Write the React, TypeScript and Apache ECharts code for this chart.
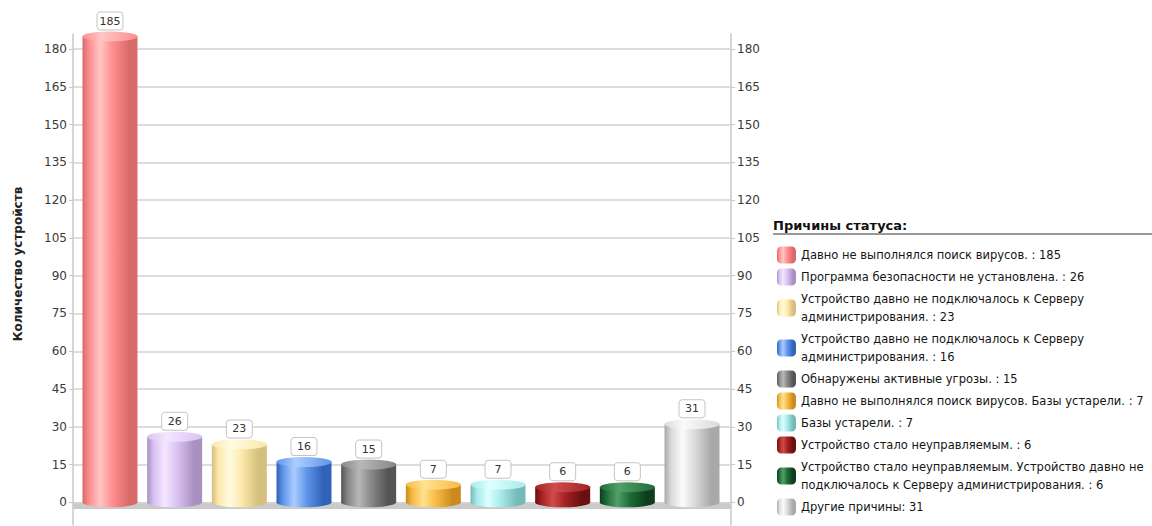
import React, { useEffect, useRef } from "react";
import * as echarts from "echarts";

// ---- data ----
const reasons: string[] = [
  "Давно не выполнялся поиск вирусов.",
  "Программа безопасности не установлена.",
  "Устройство давно не подключалось к Серверу\nадминистрирования.",
  "Устройство давно не подключалось к Серверу\nадминистрирования.",
  "Обнаружены активные угрозы.",
  "Давно не выполнялся поиск вирусов. Базы устарели.",
  "Базы устарели.",
  "Устройство стало неуправляемым.",
  "Устройство стало неуправляемым. Устройство давно не\nподключалось к Серверу администрирования.",
  "Другие причины",
];
const values: number[] = [185, 26, 23, 16, 15, 7, 7, 6, 6, 31];
const tickValues: number[] = [0, 15, 30, 45, 60, 75, 90, 105, 120, 135, 150, 165, 180];
const yAxisTitle = "Количество устройств";
const legendTitle = "Причины статуса:";

// colours: [light, base, dark]
const palette: string[][] = [
  ["#ffc6c6", "#ff8d8d", "#d86a6a"],
  ["#f4e6ff", "#d9c1f2", "#a891c0"],
  ["#fffbe2", "#fce8aa", "#d4bf7c"],
  ["#abcdff", "#5f95ea", "#2f62b8"],
  ["#b8b8b8", "#878787", "#555555"],
  ["#ffe28e", "#f6bb45", "#cc8a1e"],
  ["#deffff", "#a8eaea", "#76b9b9"],
  ["#d04c4c", "#a52222", "#6b0e0e"],
  ["#529f69", "#1f6c38", "#0d3d1c"],
  ["#fbfbfb", "#dadada", "#a8a8a8"],
];

const FONT = "'DejaVu Sans', Verdana, sans-serif";

function bodyGradient(c: string[]) {
  return new echarts.graphic.LinearGradient(0, 0, 1, 0, [
    { offset: 0, color: c[2] },
    { offset: 0.12, color: c[1] },
    { offset: 0.32, color: c[0] },
    { offset: 0.55, color: c[1] },
    { offset: 0.85, color: c[2] },
    { offset: 1, color: c[2] },
  ]);
}
function topGradient(c: string[]) {
  return new echarts.graphic.LinearGradient(0, 0, 1, 0, [
    { offset: 0, color: c[1] },
    { offset: 0.35, color: c[0] },
    { offset: 1, color: c[1] },
  ]);
}

export default function App() {
  const ref = useRef<HTMLDivElement>(null);
  useEffect(() => {
    if (!ref.current) return;
    const chart = echarts.init(ref.current, undefined, { renderer: "svg" });
    const names = reasons.map(
      (r, i) => r + (r.endsWith(".") ? " : " : ": ") + values[i]
    );
    const barW = 55;

    const barSeries = values.map((v, i) => ({
      type: "bar",
      name: names[i],
      data: [[i, v]],
      barWidth: barW,
      barGap: "-100%",
      z: 3,
      itemStyle: { color: bodyGradient(palette[i]) },
      label: {
        show: true,
        position: "top",
        distance: 7,
        formatter: (p: any) => String(p.value[1]),
        backgroundColor: "#ffffff",
        borderColor: "#c4c4c4",
        borderWidth: 1,
        borderRadius: 3,
        padding: [2, 4],
        width: 17,
        align: "center",
        color: "#333",
        fontSize: 11,
        lineHeight: 13,
        fontFamily: FONT,
      },
    }));

    const axisCommon = {
      type: "value",
      min: -9,
      max: 186,
      axisLine: {
        show: true,
        onZero: false,
        lineStyle: { color: "#c8c8c8", width: 1.5 },
      },
      axisTick: {
        show: true,
        length: 4,
        customValues: tickValues,
        lineStyle: { color: "#c8c8c8" },
      },
      axisLabel: {
        customValues: tickValues,
        color: "#3a3a3a",
        fontSize: 12,
        fontFamily: FONT,
        margin: 6,
      },
      splitLine: { show: false },
    };

    chart.setOption({
      animation: false,
      grid: { left: 73, right: 421, top: 34, bottom: 1, containLabel: false },
      xAxis: {
        type: "value",
        min: -0.572,
        max: 9.603,
        show: false,
        axisLine: { onZero: false },
      },
      yAxis: [
        { ...axisCommon, position: "left" },
        { ...axisCommon, position: "right" },
      ],
      legend: {
        orient: "vertical",
        left: 772,
        top: 241,
        itemWidth: 19,
        itemHeight: 17,
        itemGap: 4,
        icon: "roundRect",
        selectedMode: false,
        data: names,
        textStyle: { fontSize: 11.5, color: "#151515", lineHeight: 18, fontFamily: FONT },
      },
      graphic: [
        {
          type: "text",
          x: 18,
          y: 264,
          rotation: Math.PI / 2,
          style: {
            text: yAxisTitle,
            font: `bold 12px ${FONT}`,
            fill: "#222",
            textAlign: "center",
            textVerticalAlign: "middle",
          },
        },
        {
          type: "text",
          x: 773,
          y: 225,
          style: {
            text: legendTitle,
            font: `bold 13px ${FONT}`,
            fill: "#111",
            textAlign: "left",
            textVerticalAlign: "middle",
          },
        },
        {
          type: "line",
          shape: { x1: 773, y1: 234, x2: 1152, y2: 234 },
          style: { stroke: "#777", lineWidth: 1.5 },
        },
      ],
      series: [
        {
          type: "line",
          data: [],
          z: 0,
          silent: true,
          markLine: {
            silent: true,
            z: 1,
            symbol: ["none", "none"],
            label: { show: false },
            lineStyle: { color: "#d2d2d2", width: 1.5, type: "solid" },
            data: tickValues.map((t) => ({ yAxis: t })),
          },
          markArea: {
            silent: true,
            z: 1,
            itemStyle: { color: "#cacaca" },
            data: [[{ yAxis: 0 }, { yAxis: -2.6 }]],
          },
        },
        {
          type: "pictorialBar",
          symbol: "circle",
          symbolSize: [barW, 10],
          symbolPosition: "start",
          symbolOffset: [0, "50%"],
          z: 2,
          silent: true,
          data: values.map((v, i) => ({
            value: [i, v],
            itemStyle: { color: bodyGradient(palette[i]) },
          })),
        },
        ...barSeries,
        {
          type: "pictorialBar",
          symbol: "circle",
          symbolSize: [barW, 10],
          symbolPosition: "end",
          symbolOffset: [0, "-50%"],
          z: 4,
          silent: true,
          data: values.map((v, i) => ({
            value: [i, v],
            itemStyle: { color: topGradient(palette[i]) },
          })),
        },
      ],
    });
    return () => chart.dispose();
  }, []);
  return (
    <div
      ref={ref}
      style={{ position: "absolute", left: 0, top: 0, width: 1152, height: 526 }}
    />
  );
}
